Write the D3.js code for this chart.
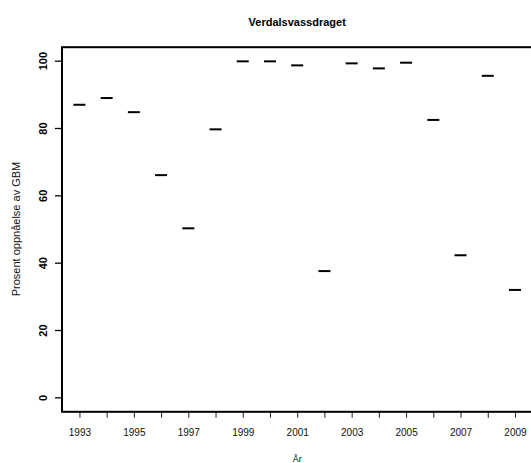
<!DOCTYPE html>
<html>
<head>
<meta charset="utf-8">
<script src="https://cdn.jsdelivr.net/npm/d3@7"></script>
<style>
  html, body { margin: 0; padding: 0; background: #fff; }
  svg { display: block; }
  text { font-family: "Liberation Sans", Arial, Helvetica, sans-serif; }
</style>
</head>
<body>
<svg id="chart" width="531" height="463"></svg>
<script>
// Data
const years = [1993, 1994, 1995, 1996, 1997, 1998, 1999, 2000, 2001, 2002, 2003, 2004, 2005, 2006, 2007, 2008, 2009];
const values = [86.9, 88.9, 84.7, 66.0, 50.2, 79.6, 99.8, 99.8, 98.6, 37.5, 99.2, 97.7, 99.4, 82.4, 42.2, 95.5, 31.9];
const yTicks = [0, 20, 40, 60, 80, 100];
const xLabelYears = [1993, 1995, 1997, 1999, 2001, 2003, 2005, 2007, 2009];
const chartTitle = "Verdalsvassdraget";
const xTitle = "År";
const yTitle = "Prosent oppnåelse av GBM";

const svg = d3.select("#chart");
const pLeft = 62, pRight = 532.4, pTop = 47.2, pBottom = 410.8;

const x = d3.scaleLinear().domain([1992.36, 2009.64]).range([pLeft, pRight]);
const y = d3.scaleLinear().domain([-4, 104]).range([pBottom, pTop]);

// Y axis
const yAxis = d3.axisLeft(y).tickValues(yTicks).tickSize(7).tickPadding(0).tickFormat(d3.format("d"));
const gy = svg.append("g").attr("transform", `translate(${pLeft},0)`).call(yAxis);
gy.select(".domain").remove();
gy.selectAll(".tick line").attr("stroke", "#000").attr("stroke-width", 1.3);
gy.selectAll(".tick text")
  .attr("x", 0).attr("y", 0).attr("dy", "0.36em")
  .attr("text-anchor", "middle")
  .attr("transform", "translate(-19,0) rotate(-90)")
  .attr("font-size", 11).attr("font-weight", "bold").attr("fill", "#000");

// X axis
const xAxis = d3.axisBottom(x).tickValues(years).tickSize(6).tickPadding(11)
  .tickFormat(d => xLabelYears.includes(d) ? String(d) : "");
const gx = svg.append("g").attr("transform", `translate(0,${pBottom + 1})`).call(xAxis);
gx.select(".domain").remove();
gx.selectAll(".tick line").attr("stroke", "#222").attr("stroke-width", 1);
gx.selectAll(".tick text").attr("font-size", 10).attr("fill", "#111");

// Frame
svg.append("rect")
  .attr("x", pLeft).attr("y", pTop)
  .attr("width", pRight - pLeft).attr("height", pBottom + 1 - pTop)
  .attr("stroke", "#000").attr("stroke-width", 2).attr("fill", "none");

// Marks
svg.append("g").selectAll("line.mark")
  .data(years.map((yr, i) => ({ yr, v: values[i] })))
  .join("line")
  .attr("class", "mark")
  .attr("x1", d => x(d.yr) - 6)
  .attr("x2", d => x(d.yr) + 6)
  .attr("y1", d => y(d.v))
  .attr("y2", d => y(d.v))
  .attr("stroke", "#000")
  .attr("stroke-width", 2);

// Titles
svg.append("text").attr("x", (pLeft + pRight) / 2).attr("y", 26)
  .attr("text-anchor", "middle").attr("font-weight", "bold").attr("font-size", 11)
  .text(chartTitle);
svg.append("text").attr("x", (pLeft + pRight) / 2).attr("y", 462)
  .attr("text-anchor", "middle").attr("font-size", 9)
  .text(xTitle);
svg.append("text")
  .attr("transform", `translate(20,${(pTop + pBottom) / 2}) rotate(-90)`)
  .attr("text-anchor", "middle").attr("font-size", 11).attr("fill", "#111")
  .text(yTitle);
</script>
</body>
</html>
